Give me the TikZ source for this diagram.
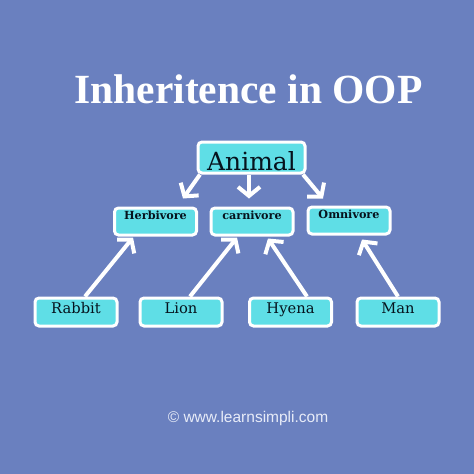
\documentclass[tikz,border=0pt]{standalone}
\usepackage{fontspec}
\newfontfamily\footfont{Liberation Sans}
\newfontfamily\titlefont{Liberation Serif}
\newfontfamily\boxfont{DejaVu Serif}
\usetikzlibrary{arrows.meta}
\definecolor{bgblue}{HTML}{6A80BF}
\definecolor{boxcyan}{HTML}{5FDEE6}
\definecolor{inktext}{HTML}{06131D}
\definecolor{foottext}{HTML}{E8ECF8}
\tikzset{
  classbox/.style={draw=white, line width=3pt, fill=boxcyan, rounded corners=4pt,
    inner sep=0pt, text=inktext},
  topbox/.style={classbox, minimum width=107pt, text height=28pt, text depth=3pt,
    font=\boxfont\fontsize{25}{28}\selectfont},
  midbox/.style={classbox, minimum width=82pt, text height=11.5pt, text depth=15.5pt,
    font=\boxfont\fontsize{11.2}{13}\selectfont\bfseries},
  lowbox/.style={classbox, minimum width=82pt, text height=15pt, text depth=13pt,
    font=\boxfont\fontsize{14.7}{17}\selectfont},
  inharrow/.style={draw=white, line width=4pt,
    -{Straight Barb[length=9pt,width=22pt]}}
}
\begin{document}
\begin{tikzpicture}[x=1pt,y=-1pt]
  \fill[bgblue] (0,0) rectangle (474,474);
  \useasboundingbox (0,0) rectangle (474,474);

  \node[text=white, font=\titlefont\fontsize{41.5}{45}\selectfont\bfseries, anchor=base]
    (title) at (248.5,103) {Inheritence in OOP};

  \node[topbox] (animal) at (251.5,157.5) {Animal};

  \node[midbox] (herb) at (155.5,221.5) {Herbivore};
  \node[midbox] (carn) at (252,221.5) {carnivore};
  \node[midbox] (omni) at (349,220.5) {Omnivore};

  \node[lowbox] (rabbit) at (76,312) {Rabbit};
  \node[lowbox] (lion) at (181,312) {Lion};
  \node[lowbox] (hyena) at (290.5,312) {Hyena};
  \node[lowbox] (man) at (398,312) {Man};

  \draw[inharrow] ([xshift=-51.5pt]animal.south) -- ([xshift=27.5pt,yshift=8pt]herb.north);
  \draw[inharrow] ([xshift=-2.5pt]animal.south) -- ([xshift=-3pt,yshift=8pt]carn.north);
  \draw[inharrow] ([xshift=51.5pt]animal.south) -- ([xshift=-26pt,yshift=7pt]omni.north);

  \draw[inharrow] ([xshift=9pt]rabbit.north) -- ([xshift=-22.5pt,yshift=-1pt]herb.south);
  \draw[inharrow] ([xshift=9pt]lion.north) -- ([xshift=-15pt,yshift=-1pt]carn.south);
  \draw[inharrow] ([xshift=16.5pt]hyena.north) -- ([xshift=16pt,yshift=-2pt]carn.south);
  \draw[inharrow] (man.north) -- ([xshift=13pt,yshift=-4pt]omni.south);

  \node[text=foottext, font=\footfont\fontsize{15.5}{18}\selectfont, anchor=base]
    (foot) at (248,422) {© www.learnsimpli.com};
\end{tikzpicture}
\end{document}
